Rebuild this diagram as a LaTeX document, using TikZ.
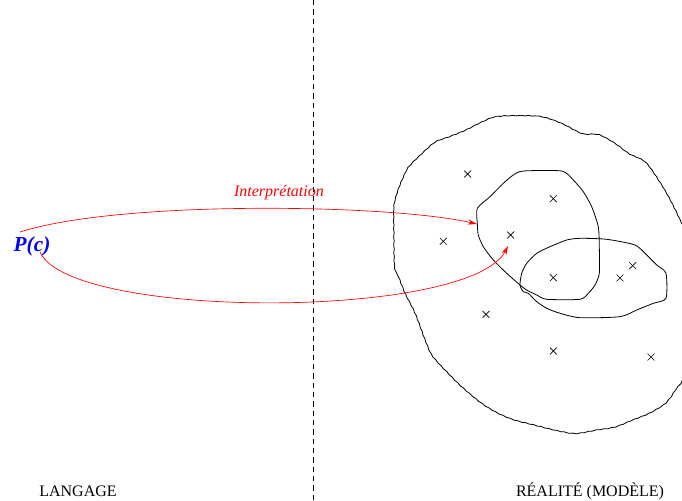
\documentclass[tikz,border=0pt]{standalone}
\usepackage{fontspec}
\setmainfont{Liberation Serif}
\usetikzlibrary{shapes.misc,decorations.pathmorphing,arrows.meta}
\tikzset{
  elt/.style={
    draw,
    shape = cross out,
    minimum size = 4.6pt,
    inner sep = 0pt,
    line width = 0.5pt
  },
  interp/.style={
    draw = red,
    line width = 0.5pt,
    -{Stealth[length=7pt,width=4pt,inset=2.5pt]}
  },
  region/.style={
    line width = 0.6pt
  },
  side/.style={
    anchor = base,
    font = \fontsize{12}{14}\selectfont,
    inner sep = 0pt
  },
  wavy/.style={
    decorate,
    decoration={snake,amplitude=.22pt,segment length=6pt}
  }
}

\begin{document}
\begin{tikzpicture}[x=0.75pt,y=-0.75pt]
    \useasboundingbox (0,0) rectangle (682,500);
    % separation langage / realite
    \coordinate (top) at (313,0);
    \coordinate (bot) at (313,500);
    \draw[dash pattern=on 4pt off 3pt, line width=0.6pt] (top) -- (bot);
    \node[side] (lang) at (78,496) {LANGAGE};
    \node[side] (real) at (590,496) {RÉALITÉ (MODÈLE)};
    \node[anchor=base, inner sep=0pt, text=blue, font=\fontsize{16}{19}\selectfont\bfseries\itshape] (pc) at (32,251) {P(c)};
    \node[side, text=red, font=\fontsize{12}{14}\selectfont\itshape] (interpr) at (279,196) {Interprétation};

    % domaine
    \begin{scope}
        \clip (0,0) rectangle (682,500);
        \draw[region, wavy] plot[smooth cycle, tension=0.5] coordinates {
            (496.7,116) (536.7,116) (560,123.3) (580,133.3) (596.7,134.3)
            (613.3,143.3) (626.7,153.3) (643.3,161.7) (656.7,180) (666.7,196.7)
            (676.7,216.7) (684,236) (690,300) (684,370) (673.3,390)
            (663.3,403.3) (646.7,413.3) (630,420) (613.3,426.7) (593.3,430)
            (573.3,433.3) (553.3,430) (533.3,425) (513.3,420) (496.7,413.3)
            (480,403.3) (460,386.7) (443.3,370) (430,355) (423.3,340)
            (413.3,313.3) (403.3,293.3) (396.7,276.7) (392.7,266.7) (392,233.3)
            (392,206.7) (395,193.3) (400,180) (406.7,166.7) (420,153.3)
            (433.3,141.7) (446.7,136.7) (463.3,130) (480,121.7)};
    \end{scope}
    \draw[region] plot[smooth cycle, tension=0.4] coordinates {
        (523.3,171) (561.7,171) (573.3,180) (583.3,191.7) (591.7,206.7)
        (598.3,226.7) (599.3,246.7) (599.3,273.3) (595,285) (588.3,293.3)
        (580,299.3) (546.7,299.3) (536.7,295) (526.7,290) (520,285)
        (506.7,273.3) (493.3,260) (483.3,246.7) (478.3,235) (477.3,223.3)
        (477.3,208.3) (490,196.7) (503.3,183.3) (513.3,175)};
    \draw[region] plot[smooth cycle, tension=0.4] coordinates {
        (520,285) (521.7,273.3) (526.7,263.3) (536.7,253.3) (550,246.7)
        (566.7,240) (580,238.3) (606.7,239.3) (635,245) (646.7,255)
        (656.7,265) (666,273.3) (666,298.3) (653.3,303.3) (636.7,310)
        (620,316.7) (580,317.7) (560,313.3) (546.7,308.3) (536.7,301.7)
        (528.3,293.3) (523.3,291.7)};

    % elements
    \foreach \n/\x/\y in {1/467.7/174, 2/553.3/198.7, 3/510.7/235, 4/443.3/241.3,
        5/553.3/277.7, 6/620/278, 7/632.7/265.7, 8/486/314.3, 9/553.3/351, 10/651/357}
        \node[elt] (e\n) at (\x,\y) {};

    % interpretation
    \coordinate (s1) at (20,232);
    \coordinate (t1) at (477,224);
    \coordinate (s2) at (40,252);
    \coordinate (t2) at (508,246);
    \draw[interp] (s1) .. controls (120,200) and (390,204) .. (t1);
    \draw[interp] (s2) .. controls (70,320) and (470,320) .. (t2);
\end{tikzpicture}
\end{document}
